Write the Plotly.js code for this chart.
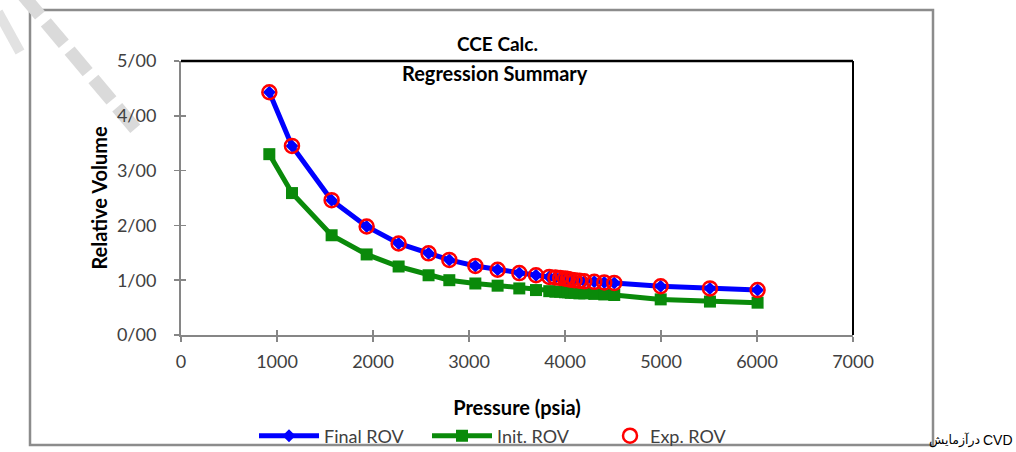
<!DOCTYPE html>
<html>
<head>
<meta charset="utf-8">
<script src="https://cdn.plot.ly/plotly-3.0.1.min.js"></script>
<style>
html,body{margin:0;padding:0;background:#fff;overflow:hidden;}
#chart{width:1016px;height:452px;}
</style>
</head>
<body>
<div id="chart"></div>
<script>
// ---- data ----
const pressure = [920, 1156, 1569, 1934, 2267, 2579, 2795, 3066, 3298, 3524, 3698, 3836, 3900, 3950, 4000, 4030, 4060, 4100, 4150, 4201, 4305, 4409, 4513, 4997, 5510, 6006];
const finalROV = [4.43, 3.45, 2.46, 1.98, 1.67, 1.49, 1.37, 1.26, 1.19, 1.13, 1.09, 1.06, 1.05, 1.04, 1.03, 1.02, 1.01, 1.00, 0.99, 0.98, 0.97, 0.96, 0.95, 0.89, 0.85, 0.82];
const initROV  = [3.30, 2.59, 1.82, 1.47, 1.25, 1.09, 1.00, 0.94, 0.90, 0.85, 0.82, 0.80, 0.79, 0.79, 0.78, 0.78, 0.77, 0.77, 0.76, 0.76, 0.75, 0.74, 0.73, 0.65, 0.61, 0.59];
const expPressure = [920, 1156, 1569, 1934, 2267, 2579, 2795, 3066, 3298, 3524, 3698, 3836, 3900, 3950, 4000, 4030, 4060, 4100, 4150, 4201, 4305, 4409, 4513, 4997, 5510, 6006];
const expROV   = [4.43, 3.45, 2.46, 1.98, 1.67, 1.49, 1.37, 1.26, 1.19, 1.13, 1.09, 1.06, 1.05, 1.04, 1.03, 1.02, 1.01, 1.00, 0.99, 0.98, 0.97, 0.96, 0.95, 0.89, 0.85, 0.82];
const xTicks = [0, 1000, 2000, 3000, 4000, 5000, 6000, 7000];
const yTicks = [0, 1, 2, 3, 4, 5];
const yTickText = ['0/00', '1/00', '2/00', '3/00', '4/00', '5/00'];
const seriesNames = ['Final ROV', 'Init. ROV', 'Exp. ROV'];

// ---- layout helpers (pixel -> paper) ----
const W = 1016, H = 452;
const L = 181, R = 853, T = 61, B = 335;
const px = x => (x - L) / (R - L);
const py = y => (B - y) / (B - T);

const font = 'Lato, "Open Sans", sans-serif';
const gray = '#868686';
const textCol = '#404040';

const traces = [
  {x: pressure, y: finalROV, name: seriesNames[0], type: 'scatter', mode: 'lines+markers', legend: 'legend',
   line: {color: '#0000FF', width: 5}, marker: {symbol: 'diamond', size: 10, color: '#0000FF'}},
  {x: pressure, y: initROV, name: seriesNames[1], type: 'scatter', mode: 'lines+markers', legend: 'legend2',
   line: {color: '#0A8A0A', width: 5}, marker: {symbol: 'square', size: 12, color: '#0A8A0A'}},
  {x: expPressure, y: expROV, name: seriesNames[2], type: 'scatter', mode: 'markers', legend: 'legend3',
   marker: {symbol: 'circle-open', size: 14, color: '#FF0000', line: {width: 2.5, color: '#FF0000'}}}
];

const shapes = [
  {type: 'rect', xref: 'paper', yref: 'paper', x0: px(30), x1: px(933), y0: py(445), y1: py(10),
   line: {color: '#8c8c8c', width: 2.5}, layer: 'below'},
  {type: 'line', xref: 'paper', yref: 'paper', x0: 0, x1: 1, y0: 1, y1: 1, line: {color: '#000', width: 2.5}},
  {type: 'line', xref: 'paper', yref: 'paper', x0: 1, x1: 1, y0: 0, y1: 1, line: {color: '#000', width: 2}},
  {type: 'line', xref: 'paper', yref: 'paper', x0: px(22), x1: px(138), y0: py(-6), y1: py(132),
   line: {color: '#dadada', width: 13, dash: '28px,9px'}, layer: 'below'},
  {type: 'line', xref: 'paper', yref: 'paper', x0: px(-2), x1: px(20), y0: py(12), y1: py(52),
   line: {color: '#e2e2e2', width: 10}, layer: 'below'}
];

const annotations = [
  {text: '<b>CCE Calc.</b>', xref: 'paper', yref: 'paper', x: px(497), y: py(44), showarrow: false,
   font: {family: font, size: 19, color: '#000'}, xanchor: 'center', yanchor: 'middle'},
  {text: '<b>Regression Summary</b>', xref: 'paper', yref: 'paper', x: px(495), y: py(73), showarrow: false,
   font: {family: font, size: 20, color: '#000'}, xanchor: 'center', yanchor: 'middle'},
  {text: 'درآزمایش', xref: 'paper', yref: 'paper', x: px(982), y: py(440), showarrow: false,
   font: {family: '"DejaVu Sans", sans-serif', size: 12.5, color: '#000'}, xanchor: 'right', yanchor: 'middle'},
  {text: 'CVD', xref: 'paper', yref: 'paper', x: px(1015), y: py(440), showarrow: false,
   font: {family: '"Liberation Sans", sans-serif', size: 14, color: '#000'}, xanchor: 'right', yanchor: 'middle'}
];

const legendBase = {orientation: 'h', xanchor: 'left', yanchor: 'middle', y: py(436),
  font: {family: font, size: 18, color: textCol}, bgcolor: 'rgba(0,0,0,0)', borderwidth: 0};

const layout = {
  width: W, height: H,
  margin: {l: L, r: W - R, t: T, b: H - B, pad: 0, autoexpand: false},
  paper_bgcolor: 'rgba(0,0,0,0)', plot_bgcolor: 'rgba(0,0,0,0)',
  showlegend: true,
  legend:  Object.assign({}, legendBase, {x: px(254), itemwidth: 60}),
  legend2: Object.assign({}, legendBase, {x: px(427), itemwidth: 60}),
  legend3: Object.assign({}, legendBase, {x: px(610), itemwidth: 30}),
  xaxis: {range: [0, 7000], tickvals: xTicks, ticktext: xTicks.map(String), showgrid: false, zeroline: false,
          showline: true, linecolor: gray, linewidth: 2, ticks: 'outside', ticklen: 5, tickcolor: gray, tickwidth: 1.5,
          tickfont: {family: font, size: 18, color: textCol}, ticklabelstandoff: 4,
          title: {text: '<b>Pressure (psia)</b>', font: {family: font, size: 20, color: '#000'}, standoff: 30}},
  yaxis: {range: [0, 5], tickvals: yTicks, ticktext: yTickText, showgrid: false, zeroline: false,
          showline: true, linecolor: gray, linewidth: 2, ticks: 'outside', ticklen: 5, tickcolor: gray, tickwidth: 1.5,
          tickfont: {family: font, size: 18, color: textCol}, ticklabelstandoff: 14,
          title: {text: '<b>Relative Volume</b>', font: {family: font, size: 20, color: '#000'}, standoff: 4}},
  xaxis2: {overlaying: 'x', range: [0, 7000], tickvals: xTicks, showticklabels: false, showgrid: false, zeroline: false,
           showline: false, ticks: 'inside', ticklen: 5, tickcolor: gray, tickwidth: 1.5, side: 'bottom'},
  yaxis2: {overlaying: 'y', range: [0, 5], tickvals: yTicks, showticklabels: false, showgrid: false, zeroline: false,
           showline: false, ticks: 'inside', ticklen: 5, tickcolor: gray, tickwidth: 1.5, side: 'left'},
  shapes: shapes,
  annotations: annotations
};

traces.push({x: [0], y: [0], xaxis: 'x2', yaxis: 'y2', mode: 'markers', marker: {opacity: 0}, showlegend: false, hoverinfo: 'skip'});

Plotly.newPlot('chart', traces, layout, {displayModeBar: false, staticPlot: true});
</script>
</body>
</html>
